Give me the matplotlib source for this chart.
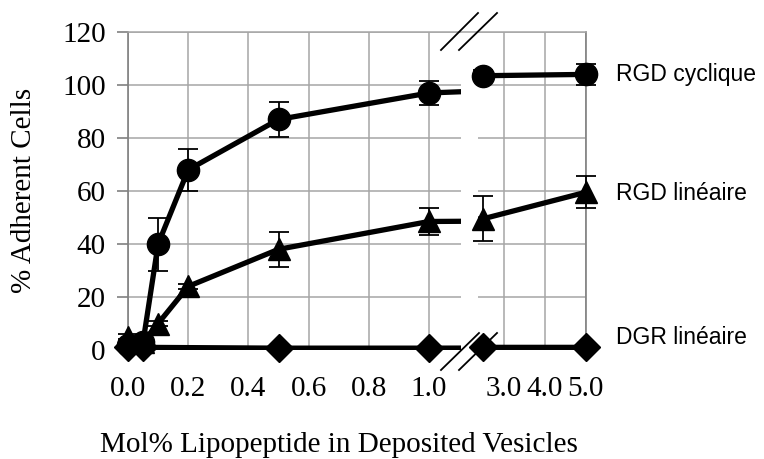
import matplotlib.pyplot as plt
from matplotlib.lines import Line2D

# data (mol% lipopeptide vs % adherent cells)
conc = [0, 0.05, 0.1, 0.2, 0.5, 1.0, 2.5, 5.0]
rgd_cyc = [2, 3, 40, 68, 87, 97, 103.5, 104]
rgd_cyc_err = [1, 1, 10, 8, 6.5, 4.5, 2, 4]
rgd_lin = [5, 3, 10, 24, 38, 48.5, 49.5, 59.5]
rgd_lin_err = [1, 1, 1, 1, 6.5, 5, 8.5, 6]
dgr_conc = [0, 0.05, 0.5, 1.0, 2.5, 5.0]
dgr_lin = [1, 1, 0.7, 0.7, 1, 1]
dgr_err = [0, 0, 0, 0, 0, 0]

left_ticks = [0.0, 0.2, 0.4, 0.6, 0.8, 1.0]
right_ticks = [3.0, 4.0, 5.0]
y_ticks = [0, 20, 40, 60, 80, 100, 120]
series_names = ['RGD cyclique', 'RGD linéaire', 'DGR linéaire']

W, H = 764, 459
serif = 'Liberation Serif'
grid_col = '#a6a6a6'

fig = plt.figure(figsize=(W / 100, H / 100), dpi=100)


def px(x0, y0, x1, y1):
    # pixel box -> figure fraction rect
    return [x0 / W, 1 - y1 / H, (x1 - x0) / W, (y1 - y0) / H]


ax1 = fig.add_axes(px(128, 32, 461, 350))
ax2 = fig.add_axes(px(478, 32, 585.5, 350))

series = [
    (conc, rgd_cyc, rgd_cyc_err, 'o', 16),
    (conc, rgd_lin, rgd_lin_err, '^', 15.5),
    (dgr_conc, dgr_lin, dgr_err, 'D', 14),
]

for ax, lo, hi in [(ax1, 0, 1.106), (ax2, 2.378, 5.0)]:
    for xs, ys, es, mk, ms in series:
        # line clipped at the break
        ax.plot(xs, ys, color='black', lw=3.8, clip_on=True, zorder=3)
        inside = [lo - 1e-9 <= x <= hi + 1e-9 for x in xs]
        px_ = [x for x, k in zip(xs, inside) if k]
        py_ = [y for y, k in zip(ys, inside) if k]
        pe_ = [e for e, k in zip(es, inside) if k]
        ax.errorbar(px_, py_, yerr=pe_, fmt='none', ecolor='black',
                    elinewidth=1.3, capsize=7, capthick=1.3,
                    clip_on=False, zorder=4)
        ax.plot(px_, py_, linestyle='none', marker=mk, markersize=ms,
                color='black', clip_on=False, zorder=5)
    ax.set_xlim(lo, hi)
    ax.set_ylim(0, 120)
    ax.set_yticks(y_ticks)
    ax.grid(True, color=grid_col, lw=1.1)
    ax.set_axisbelow(True)
    for s in ax.spines.values():
        s.set_visible(False)
    ax.tick_params(axis='x', length=0, pad=19, labelsize=21)

ax1.set_xticks(left_ticks)
ax1.set_xticklabels([f'{t:.1f}' for t in left_ticks], fontfamily=serif, fontsize=21)
ax1.set_yticklabels([str(t) for t in y_ticks], fontfamily=serif, fontsize=21)
ax1.spines['left'].set_visible(True)
ax1.spines['left'].set_color('#808080')
ax1.spines['left'].set_linewidth(1.2)
ax1.tick_params(axis='y', length=8, width=1.2, color='#808080', pad=8)

ax2.set_xticks(right_ticks)
ax2.set_xticklabels([f'{t:.1f}' for t in right_ticks], fontfamily=serif, fontsize=21)
ax2.tick_params(axis='y', length=0, labelleft=False)
ax2.spines['right'].set_visible(True)
ax2.spines['right'].set_color('#808080')
ax2.spines['right'].set_linewidth(1.2)

# continuous top border across the break
fig.add_artist(Line2D([128 / W, 585.5 / W], [1 - 32 / H, 1 - 32 / H],
                      color=grid_col, lw=1.1, transform=fig.transFigure))

# break marks
for (x0, y0, x1, y1) in [(441, 50, 478, 13), (459, 50, 497, 13),
                         (441, 370, 479, 333), (459, 370, 497, 333)]:
    fig.add_artist(Line2D([x0 / W, x1 / W], [1 - y0 / H, 1 - y1 / H],
                          color='black', lw=1.3, transform=fig.transFigure,
                          zorder=10))

fig.text(24 / W, 1 - 190 / H, '% Adherent Cells', rotation=90, ha='center',
         va='center', fontfamily=serif, fontsize=21)
fig.text(339 / W, 1 - 445 / H, 'Mol% Lipopeptide in Deposited Vesicles',
         ha='center', va='center', fontfamily=serif, fontsize=21)

label_y = [75, 193, 337]
for name, ly in zip(series_names, label_y):
    fig.text(616 / W, 1 - ly / H, name, ha='left', va='center',
             fontfamily='Liberation Sans', fontsize=16.5)

fig.savefig('out.png', dpi=100)
